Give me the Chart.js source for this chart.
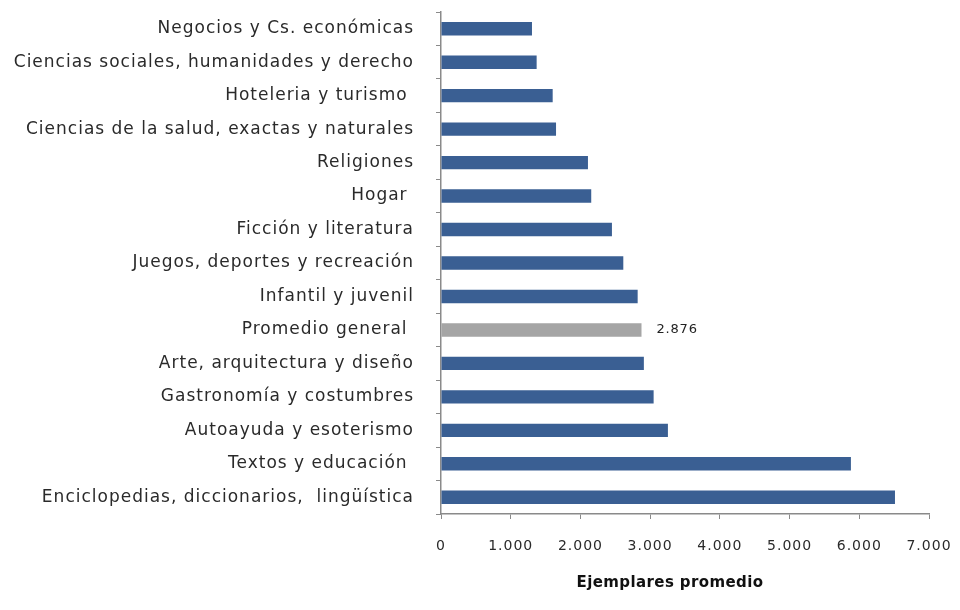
<!DOCTYPE html>
<html><head><meta charset="utf-8">
<script src="https://cdn.jsdelivr.net/npm/chart.js@4/dist/chart.umd.min.js"></script>
<style>html,body{margin:0;padding:0;background:#fff}#wrap{width:960px;height:610px}</style>
</head><body><div id="wrap"><canvas id="c" width="960" height="610"></canvas></div>
<script>
const categories = [
  "Negocios y Cs. económicas",
  "Ciencias sociales, humanidades y derecho",
  "Hoteleria y turismo ",
  "Ciencias de la salud, exactas y naturales",
  "Religiones",
  "Hogar ",
  "Ficción y literatura",
  "Juegos, deportes y recreación",
  "Infantil y juvenil",
  "Promedio general ",
  "Arte, arquitectura y diseño",
  "Gastronomía y costumbres",
  "Autoayuda y esoterismo",
  "Textos y educación ",
  "Enciclopedias, diccionarios,  lingüística"
];
const values = [1305, 1372, 1602, 1650, 2108, 2155, 2452, 2615, 2821, 2876, 2910, 3050, 3255, 5880, 6512];
const highlightIndex = 9;
const xTicks = [0, 1000, 2000, 3000, 4000, 5000, 6000, 7000];
const axisTitle = "Ejemplares promedio";

const fmt = v => v.toString().replace(/\B(?=(\d{3})+(?!\d))/g, ".");
const FONT = "'DejaVu Sans', sans-serif";

const spacingPlugin = {
  id: 'spacing',
  beforeUpdate(chart) { chart.ctx.letterSpacing = '1px'; },
  beforeDraw(chart) { chart.ctx.letterSpacing = '1px'; }
};

const labelPlugin = {
  id: 'lbl',
  afterDatasetsDraw(chart) {
    const meta = chart.getDatasetMeta(0);
    const el = meta.data[highlightIndex];
    const ctx = chart.ctx;
    ctx.save();
    ctx.letterSpacing = '0.8px';
    ctx.font = "13px " + FONT;
    ctx.fillStyle = "#222";
    ctx.textAlign = "left";
    ctx.textBaseline = "middle";
    ctx.fillText(fmt(values[highlightIndex]), el.x + 15, el.y);
    ctx.restore();
  },
  afterDraw(chart) {
    const ctx = chart.ctx;
    const a = chart.chartArea;
    ctx.save();
    ctx.letterSpacing = '0.4px';
    ctx.font = "bold 15px " + FONT;
    ctx.fillStyle = "#111";
    ctx.textAlign = "center";
    ctx.textBaseline = "middle";
    ctx.fillText(axisTitle, (a.left + a.right) / 2 - 15, a.bottom + 69);
    ctx.restore();
  }
};

new Chart(document.getElementById('c'), {
  type: 'bar',
  data: {
    labels: categories,
    datasets: [{
      data: values,
      backgroundColor: values.map((v, i) => i === highlightIndex ? '#a5a5a5' : '#3a5f93'),
      borderWidth: 0,
      categoryPercentage: 1,
      barPercentage: 0.4
    }]
  },
  options: {
    indexAxis: 'y',
    responsive: false,
    animation: false,
    devicePixelRatio: 1,
    layout: { padding: { top: 12, right: 31, left: 0, bottom: 0 } },
    plugins: { legend: { display: false }, tooltip: { enabled: false } },
    scales: {
      y: {
        grid: { drawOnChartArea: false, tickLength: 5, color: '#8a8a8a', offset: true },
        border: { color: '#8a8a8a', width: 1.5 },
        ticks: { color: '#2a2a2a', font: { size: 17, family: FONT }, padding: 22, autoSkip: false },
        afterFit(s) { s.width = 441; s.paddingTop = 0; s.paddingBottom = 0; }
      },
      x: {
        min: 0, max: 7000,
        afterBuildTicks(s) { s.ticks = xTicks.map(v => ({ value: v })); },
        grid: { drawOnChartArea: false, tickLength: 5, color: '#8a8a8a' },
        border: { color: '#8a8a8a', width: 1.5 },
        ticks: { color: '#2a2a2a', font: { size: 14, family: FONT }, padding: 19, callback: v => fmt(v), maxRotation: 0 },
        afterFit(s) { s.height = 96; s.paddingLeft = 0; s.paddingRight = 0; }
      }
    }
  },
  plugins: [spacingPlugin, labelPlugin]
});
</script>
</body></html>
